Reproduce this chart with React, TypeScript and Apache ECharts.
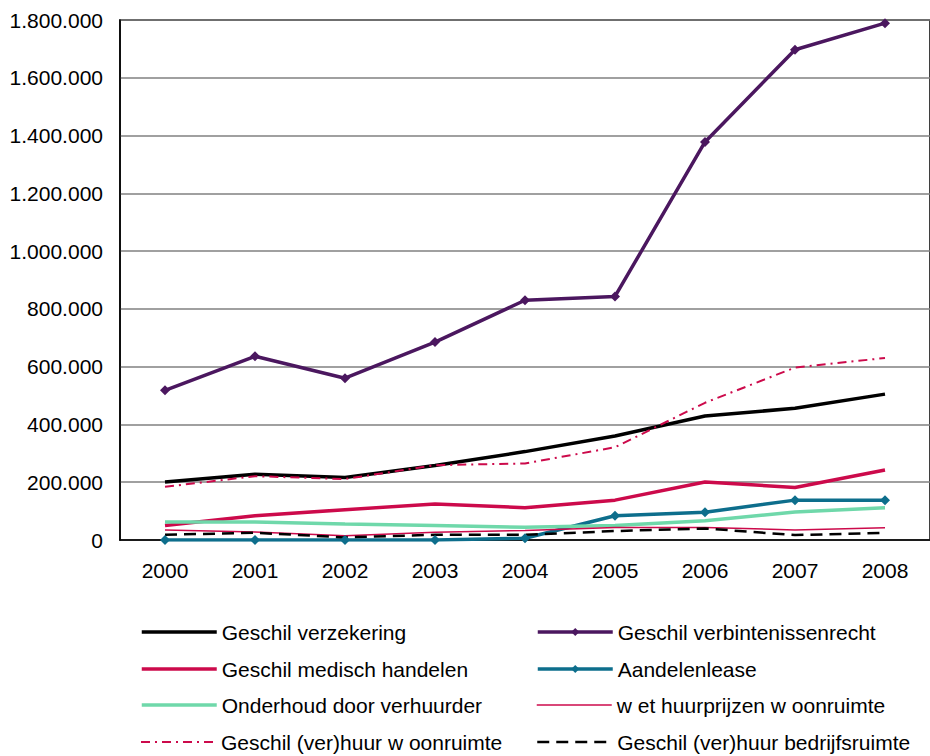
import React, { useEffect, useRef } from "react";
import * as echarts from "echarts";

const years = ["2000", "2001", "2002", "2003", "2004", "2005", "2006", "2007", "2008"];

const verzekering = [201000, 228000, 216000, 258000, 306000, 360000, 429000, 456000, 505000];
const verbintenissenrecht = [518000, 636000, 560000, 685000, 830000, 843000, 1378000, 1697000, 1789000];
const medischHandelen = [50000, 84000, 105000, 125000, 112000, 138000, 201000, 182000, 242000];
const aandelenlease = [0, 0, 0, 0, 6000, 84000, 96000, 138000, 138000];
const onderhoud = [62000, 62000, 55000, 50000, 44000, 50000, 67000, 97000, 112000];
const wetHuurprijzen = [35000, 28000, 15000, 27000, 33000, 43000, 43000, 35000, 42000];
const huurWoonruimte = [184000, 221000, 211000, 259000, 265000, 321000, 475000, 597000, 630000];
const huurBedrijfsruimte = [18000, 25000, 9000, 18000, 18000, 31000, 40000, 17000, 25000];

const yTicks = { min: 0, max: 1800000, interval: 200000 };

const FONT = "'Liberation Sans', Arial, sans-serif";

function fmt(v: number): string {
  return String(v).replace(/\B(?=(\d{3})+(?!\d))/g, ".");
}

export default function App() {
  const ref = useRef<HTMLDivElement>(null);

  useEffect(() => {
    document.body.style.margin = "0";
    if (!ref.current) return;
    const chart = echarts.init(ref.current, null, { renderer: "svg" });

    const seriesDefs = [
      { name: "Geschil verzekering", data: verzekering, color: "#000000", width: 3.5, type: "solid" as any, symbol: "none" },
      { name: "Geschil verbintenissenrecht", data: verbintenissenrecht, color: "#4B175F", width: 3.5, type: "solid" as any, symbol: "diamond" },
      { name: "Geschil medisch handelen", data: medischHandelen, color: "#CC0A4B", width: 3.5, type: "solid" as any, symbol: "none" },
      { name: "Aandelenlease", data: aandelenlease, color: "#0D6E8C", width: 3.5, type: "solid" as any, symbol: "diamond" },
      { name: "Onderhoud door verhuurder", data: onderhoud, color: "#6FD8AA", width: 3.5, type: "solid" as any, symbol: "none" },
      { name: "w et huurprijzen w oonruimte", data: wetHuurprijzen, color: "#CC0A4B", width: 1.5, type: "solid" as any, symbol: "none" },
      { name: "Geschil (ver)huur w oonruimte", data: huurWoonruimte, color: "#CC0A4B", width: 2, type: [9, 5, 2, 5] as any, symbol: "none" },
      { name: "Geschil (ver)huur bedrijfsruimte", data: huurBedrijfsruimte, color: "#000000", width: 2.5, type: [12, 7] as any, symbol: "none" },
    ];

    const rowCenters = [632, 669, 705, 742];
    const colLefts = [135, 531];

    const legends = seriesDefs.map((s, i) => {
      const row = Math.floor(i / 2);
      const col = i % 2;
      return {
        show: true,
        data: [s.name],
        left: colLefts[col],
        top: rowCenters[row] - 17,
        itemWidth: 75,
        itemHeight: 10,
        itemGap: 0,
        textStyle: { fontFamily: FONT, fontSize: 21, color: "#000", lineHeight: 24 },
        itemStyle: s.symbol === "none" ? { opacity: 0 } : {},
        lineStyle: { width: s.width, color: s.color, type: s.type },
        selectedMode: false,
      };
    });

    chart.setOption({
      animation: false,
      backgroundColor: "#ffffff",
      grid: {
        left: 120,
        right: -1,
        top: 20,
        bottom: 216,
        containLabel: false,
        show: true,
        borderColor: "#000",
        borderWidth: 1.5,
      },
      legend: legends,
      xAxis: {
        type: "category",
        data: years,
        boundaryGap: true,
        axisLine: { lineStyle: { color: "#000", width: 1.5 } },
        axisTick: { show: false },
        axisLabel: { fontFamily: FONT, fontSize: 21, color: "#000", margin: 20 },
      },
      yAxis: {
        type: "value",
        min: yTicks.min,
        max: yTicks.max,
        interval: yTicks.interval,
        axisLine: { show: true, lineStyle: { color: "#000", width: 1.5 } },
        axisTick: { show: false },
        splitLine: { show: true, lineStyle: { color: "#808080", width: 1.5 } },
        axisLabel: {
          fontFamily: FONT,
          fontSize: 21,
          color: "#000",
          margin: 17,
          formatter: (v: number) => fmt(v),
        },
      },
      series: seriesDefs.map((s) => ({
        name: s.name,
        type: "line",
        data: s.data,
        symbol: s.symbol,
        symbolSize: 10,
        showSymbol: s.symbol !== "none",
        lineStyle: { color: s.color, width: s.width, type: s.type },
        itemStyle: { color: s.color },
        emphasis: { disabled: true },
      })),
    });

    return () => chart.dispose();
  }, []);

  return <div ref={ref} style={{ width: 930, height: 756 }} />;
}
